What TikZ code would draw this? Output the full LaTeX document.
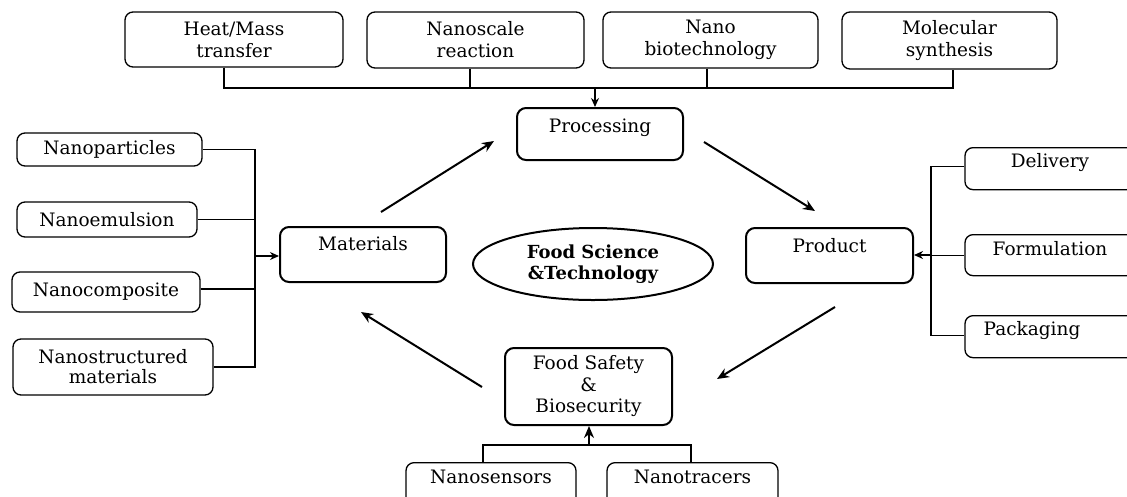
\documentclass[tikz,border=0pt]{standalone}
\usepackage{fontspec}
\setmainfont{DejaVu Serif}
\usetikzlibrary{arrows.meta,calc,shapes.geometric}
\begin{document}
\begin{tikzpicture}[x=1pt,y=-1pt,
  every node/.style={font=\fontsize{18.5}{22}\selectfont},
  mainbox/.style={draw, line width=2pt, rounded corners=9pt, inner sep=0pt, align=center},
  subbox/.style={draw, line width=1.3pt, rounded corners=8pt, inner sep=0pt, align=center},
  link/.style={line width=1.2pt},
  flow/.style={line width=2pt, -{Stealth[length=12pt,width=10pt]}},
  tip/.style={line width=1.4pt, -{Stealth[length=9pt,width=8pt]}},
]
\clip (0,0) rectangle (1127,496);
\fill[white] (0,0) rectangle (1127,496);

% top row
\node[subbox, minimum width=218pt, minimum height=55pt] (hm) at (234,39.5) {Heat/Mass\\transfer};
\node[subbox, minimum width=217pt, minimum height=56pt] (nr) at (475.5,40) {Nanoscale\\reaction};
\node[subbox, minimum width=215pt, minimum height=56pt] (nb) at (710.5,40) {Nano\\biotechnology};
\node[subbox, minimum width=215pt, minimum height=57pt] (ms) at (949.5,40.5) {Molecular\\synthesis};

% main boxes
\node[mainbox, minimum width=166pt, text height=24pt, text depth=28pt, anchor=north] (proc) at (600,107) {Processing};
\node[mainbox, minimum width=166pt, text height=23pt, text depth=32pt, anchor=north] (mat) at (363,226) {Materials};
\node[mainbox, minimum width=167pt, text height=24pt, text depth=31pt, anchor=north] (prod) at (829.5,227) {Product};
\node[mainbox, minimum width=167pt, minimum height=77pt, font=\fontsize{18.5}{21.5}\selectfont] (fs) at (588.5,386.5) {Food Safety\\\&\\Biosecurity};
\node[draw, ellipse, line width=2pt, inner sep=0pt, minimum width=240pt, minimum height=72pt, align=center, font=\bfseries\fontsize{18}{21}\selectfont] (fst) at (593,264) {Food Science\\\&Technology};

% left column
\node[subbox, minimum width=185pt, minimum height=33pt] (np) at (109.5,149.5) {Nanoparticles};
\node[subbox, minimum width=180pt, minimum height=35pt] (ne) at (107,219.5) {Nanoemulsion};
\node[subbox, minimum width=188pt, minimum height=40pt] (nc) at (106,292) {Nanocomposite};
\node[subbox, minimum width=200pt, minimum height=56pt, font=\fontsize{18.5}{20}\selectfont] (nsm) at (113,367) {Nanostructured\\materials};

% right column
\node[subbox, minimum width=170pt, text height=20pt, text depth=22pt, anchor=north] (del) at (1050,147) {Delivery};
\node[subbox, minimum width=170pt, text height=21pt, text depth=20pt, anchor=north] (form) at (1050,234) {Formulation};
\node[subbox, minimum width=170pt, text height=20pt, text depth=22pt, anchor=north] (pack) at (1050,315) {Packaging\hspace*{36pt}};

% bottom row
\node[subbox, minimum width=170pt, text height=21pt, text depth=48pt, anchor=north] (ns) at (491,462) {Nanosensors};
\node[subbox, minimum width=171pt, text height=21pt, text depth=48pt, anchor=north] (nt) at (692.5,462) {Nanotracers};

% top bus
\coordinate (tb) at (595,88);
\draw[link] ($(hm.south)+(-10,0)$) |- (tb) -| ($(ms.south)+(3.5,0)$);
\draw[link] ($(nr.south)+(-5.5,0)$) -- ($(nr.south |- tb)+(-5.5,0)$);
\draw[link] ($(nb.south)+(-3.5,0)$) -- ($(nb.south |- tb)+(-3.5,0)$);
\draw[tip] (tb) -- (tb |- proc.north);

% left bus
\coordinate (lb) at (255,256);
\draw[link] (np.east) -| (lb) |- (nsm.east);
\draw[link] (ne.east) -- (ne.east -| lb);
\draw[link] ($(nc.east)+(0,-3)$) -- ($(nc.east -| lb)+(0,-3)$);
\draw[tip] (lb) -- (lb -| mat.west);

% right bus
\coordinate (rb) at (931,255);
\draw[link] ($(del.west)+(0,-2)$) -| (rb) |- ($(pack.west)+(0,-1)$);
\draw[link] (form.west) -- (form.west -| rb);
\draw[tip] (rb) -- (rb -| prod.east);

% bottom bus
\coordinate (bb) at (589,445);
\draw[link] ($(ns.north)+(-8,0)$) |- (bb) -| ($(nt.north)+(-1.5,0)$);
\draw[flow] (bb) -- (bb |- fs.south);

% cycle arrows
\draw[flow] ($(mat.north)+(18,-14)$) -- ($(proc.west)+(-22,7)$);
\draw[flow] ($(proc.east)+(20,8)$) -- ($(prod.north)+(-14.5,-16)$);
\draw[flow] ($(prod.south)+(5.5,23)$) -- ($(fs.east)+(44,-7.5)$);
\draw[flow] ($(fs.west)+(-22,0.5)$) -- ($(mat.south)+(-2,29)$);
\end{tikzpicture}
\end{document}
